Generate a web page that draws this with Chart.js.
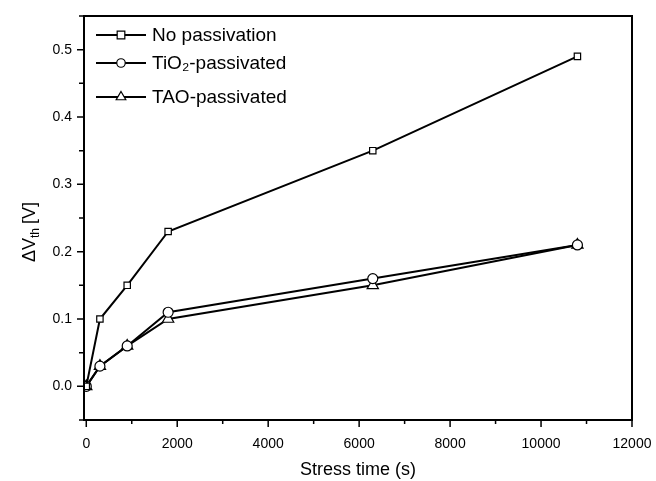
<!DOCTYPE html>
<html>
<head>
<meta charset="utf-8">
<script src="https://cdn.jsdelivr.net/npm/chart.js@4"></script>
<style>
  html, body { margin: 0; padding: 0; background: #fff; }
  #wrap { width: 656px; height: 481px; }
</style>
</head>
<body>
<div id="wrap"><canvas id="myChart"></canvas></div>
<script>
// stress time (s)
const stressTime = [0, 300, 900, 1800, 6300, 10800];
// threshold voltage shift (V)
const noPassivation = [0, 0.10, 0.15, 0.23, 0.35, 0.49];
const tio2Passivated = [0, 0.03, 0.06, 0.11, 0.16, 0.21];
const taoPassivated = [0, 0.03, 0.06, 0.10, 0.15, 0.21];

const seriesNames = ['No passivation', 'TiO\u2082-passivated', 'TAO-passivated'];
const xTicks = [0, 2000, 4000, 6000, 8000, 10000, 12000];
const yTicks = [0.0, 0.1, 0.2, 0.3, 0.4, 0.5];

const toPoints = vals => vals.map((v, i) => ({x: stressTime[i], y: v}));

const FONT = '"Liberation Sans", Arial, sans-serif';

// frame, minor/major ticks, y title and the legend
const decor = {
  id: 'decor',
  afterDraw(chart) {
    const c = chart.ctx, a = chart.chartArea;
    const xs = chart.scales.x, ys = chart.scales.y;
    c.save();
    c.strokeStyle = '#000';
    c.lineWidth = 2;
    c.strokeRect(a.left, a.top, a.right - a.left, a.bottom - a.top);

    c.lineWidth = 1.5;
    c.beginPath();
    for (let v = 0; v <= 12000; v += 1000) {
      const px = xs.getPixelForValue(v);
      const len = v % 2000 === 0 ? 7 : 4;
      c.moveTo(px, a.bottom);
      c.lineTo(px, a.bottom + len);
    }
    for (let k = -1; k <= 11; k++) {
      const v = k * 0.05;
      const py = ys.getPixelForValue(v);
      const len = k % 2 === 0 ? 7 : 5;
      c.moveTo(a.left, py);
      c.lineTo(a.left - len, py);
    }
    c.stroke();

    // y axis title with subscript
    c.translate(28, 226);
    c.rotate(-Math.PI / 2);
    c.fillStyle = '#000';
    c.textBaseline = 'alphabetic';
    c.font = '18px ' + FONT;
    let tx = -36;
    c.fillText('\u0394V', tx, 7);
    tx += c.measureText('\u0394V').width;
    c.font = '12px ' + FONT;
    c.fillText('th', tx, 11);
    tx += c.measureText('th').width + 4;
    c.font = '18px ' + FONT;
    c.fillText('[V]', tx, 7);
    c.restore();

    // legend
    c.save();
    const rows = [35, 63, 97];
    chart.data.datasets.forEach((ds, i) => {
      const y = rows[i];
      c.strokeStyle = '#000';
      c.lineWidth = 2;
      c.beginPath();
      c.moveTo(96, y);
      c.lineTo(146, y);
      c.stroke();
      drawMarker(c, ds.pointStyle, 121, y, ds.pointRadius * 0.85);
      c.fillStyle = '#000';
      c.font = '19px ' + FONT;
      c.textBaseline = 'middle';
      c.fillText(ds.label, 152, y + 1);
    });
    c.restore();
  }
};

function drawMarker(c, style, x, y, r) {
  c.save();
  c.fillStyle = '#fff';
  c.strokeStyle = '#000';
  c.lineWidth = 1.2;
  c.beginPath();
  if (style === 'rect') {
    c.rect(x - r, y - r, 2 * r, 2 * r);
  } else if (style === 'circle') {
    c.arc(x, y, r, 0, Math.PI * 2);
  } else {
    c.moveTo(x, y - r);
    c.lineTo(x + r * 0.87, y + r * 0.5);
    c.lineTo(x - r * 0.87, y + r * 0.5);
    c.closePath();
  }
  c.fill();
  c.stroke();
  c.restore();
}

const mkSet = (label, vals, style, r) => ({
  label: label,
  data: toPoints(vals),
  borderColor: '#000',
  borderWidth: 2,
  backgroundColor: '#fff',
  pointStyle: style,
  pointRadius: r,
  pointBorderWidth: 1.2,
  pointBorderColor: '#000',
  pointBackgroundColor: '#fff',
  tension: 0
});

new Chart(document.getElementById('myChart'), {
  type: 'line',
  data: {
    datasets: [
      mkSet(seriesNames[0], noPassivation, 'rect', 4.5),
      mkSet(seriesNames[1], tio2Passivated, 'circle', 5),
      mkSet(seriesNames[2], taoPassivated, 'triangle', 6.5)
    ]
  },
  options: {
    responsive: true,
    maintainAspectRatio: false,
    animation: false,
    events: [],
    layout: { padding: { top: 16, right: 24, left: 0, bottom: 0 } },
    plugins: { legend: { display: false }, tooltip: { enabled: false } },
    scales: {
      x: {
        type: 'linear',
        min: -50,
        max: 12000,
        afterBuildTicks: s => { s.ticks = xTicks.map(v => ({value: v})); },
        afterFit: s => { s.height = 61; s.paddingLeft = 0; s.paddingRight = 0; },
        grid: { display: false, drawTicks: false },
        border: { display: false },
        ticks: {
          color: '#000',
          font: { family: FONT, size: 14 },
          padding: 16,
          maxRotation: 0,
          callback: v => String(v)
        },
        title: {
          display: true,
          text: 'Stress time (s)',
          color: '#000',
          font: { family: FONT, size: 18 },
          padding: { top: 4, bottom: 0 }
        }
      },
      y: {
        min: -0.05,
        max: 0.55,
        afterBuildTicks: s => { s.ticks = yTicks.map(v => ({value: v})); },
        afterFit: s => { s.width = 84; s.paddingTop = 0; s.paddingBottom = 0; },
        grid: { display: false, drawTicks: false },
        border: { display: false },
        ticks: {
          color: '#000',
          font: { family: FONT, size: 14 },
          padding: 12,
          callback: v => v.toFixed(1)
        }
      }
    }
  },
  plugins: [decor]
});
</script>
</body>
</html>
